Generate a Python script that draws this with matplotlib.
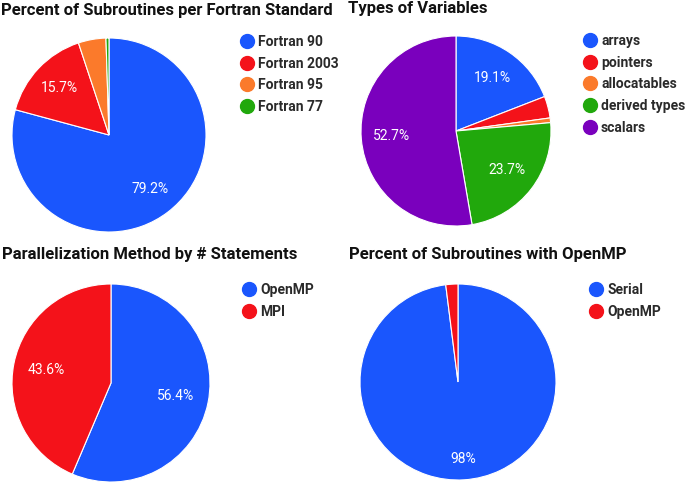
import matplotlib
matplotlib.use("Agg")
import matplotlib.pyplot as plt
from matplotlib.lines import Line2D

plt.rcParams['font.family'] = ['Roboto', 'DejaVu Sans']

# ---- data ----
titles = ["Percent of Subroutines per Fortran Standard",
          "Types of Variables",
          "Parallelization Method by # Statements",
          "Percent of Subroutines with OpenMP"]

std_labels = ["Fortran 90", "Fortran 2003", "Fortran 95", "Fortran 77"]
std_values = [79.2, 15.7, 4.6, 0.5]

var_labels = ["arrays", "pointers", "allocatables", "derived types", "scalars"]
var_values = [19.1, 3.7, 0.8, 23.7, 52.7]

par_labels = ["OpenMP", "MPI"]
par_values = [56.4, 43.6]

omp_labels = ["Serial", "OpenMP"]
omp_values = [98, 2]

BLUE = "#1a56fd"
RED = "#f4121a"
ORANGE = "#fb7a2b"
GREEN = "#21a80c"
PURPLE = "#7a00bd"

W, H = 685, 482
fig = plt.figure(figsize=(W / 100, H / 100), dpi=100)


def pct_fmt(p):
    if p < 5:
        return ""
    s = f"{p:.1f}"
    if s.endswith(".0"):
        s = s[:-2]
    return s + "%"


panels = [
    dict(values=std_values, labels=std_labels, colors=[BLUE, RED, ORANGE, GREEN],
         c=(109, 135), r=97, title=(1, 10), leg=(240, 35), pd=0.70),
    dict(values=var_values, labels=var_labels, colors=[BLUE, RED, ORANGE, GREEN, PURPLE],
         c=(456, 131), r=95, title=(348, 8), leg=(583, 34), pd=0.68),
    dict(values=par_values, labels=par_labels, colors=[BLUE, RED],
         c=(111, 383), r=99, title=(2, 255), leg=(242, 283), pd=0.67),
    dict(values=omp_values, labels=omp_labels, colors=[BLUE, RED],
         c=(458, 382), r=98, title=(349, 255), leg=(589, 283), pd=0.79),
]

for i, p in enumerate(panels):
    cx, cy = p["c"]
    r = p["r"]
    ax = fig.add_axes([(cx - r) / W, (H - cy - r) / H, 2 * r / W, 2 * r / H])
    wedges, texts, autotexts = ax.pie(
        p["values"], colors=p["colors"], startangle=90, counterclock=False,
        autopct=pct_fmt, pctdistance=p["pd"],
        wedgeprops=dict(edgecolor="white", linewidth=0.8),
        textprops=dict(color="white", fontsize=10))
    ax.set_xlim(-1.0, 1.0)
    ax.set_ylim(-1.0, 1.0)
    ax.set_aspect("equal")
    ax.axis("off")

    tx, ty = p["title"]
    fig.text(tx / W, 1 - ty / H, titles[i], fontsize=12, fontweight="bold",
             color="#111111", ha="left", va="center")

    handles = [Line2D([], [], marker="o", linestyle="none", markersize=10,
                      markerfacecolor=col, markeredgecolor=col)
               for col in p["colors"]]
    lx, ly = p["leg"]
    fig.legend(handles, p["labels"], loc="upper left",
               bbox_to_anchor=(lx / W, 1 - ly / H), frameon=False,
               labelspacing=0.55, handletextpad=0.3,
               handlelength=1.0, borderaxespad=0, borderpad=0,
               labelcolor="#2a2a2a", prop=dict(weight="bold", size=10))

fig.savefig("out.png", dpi=100)
